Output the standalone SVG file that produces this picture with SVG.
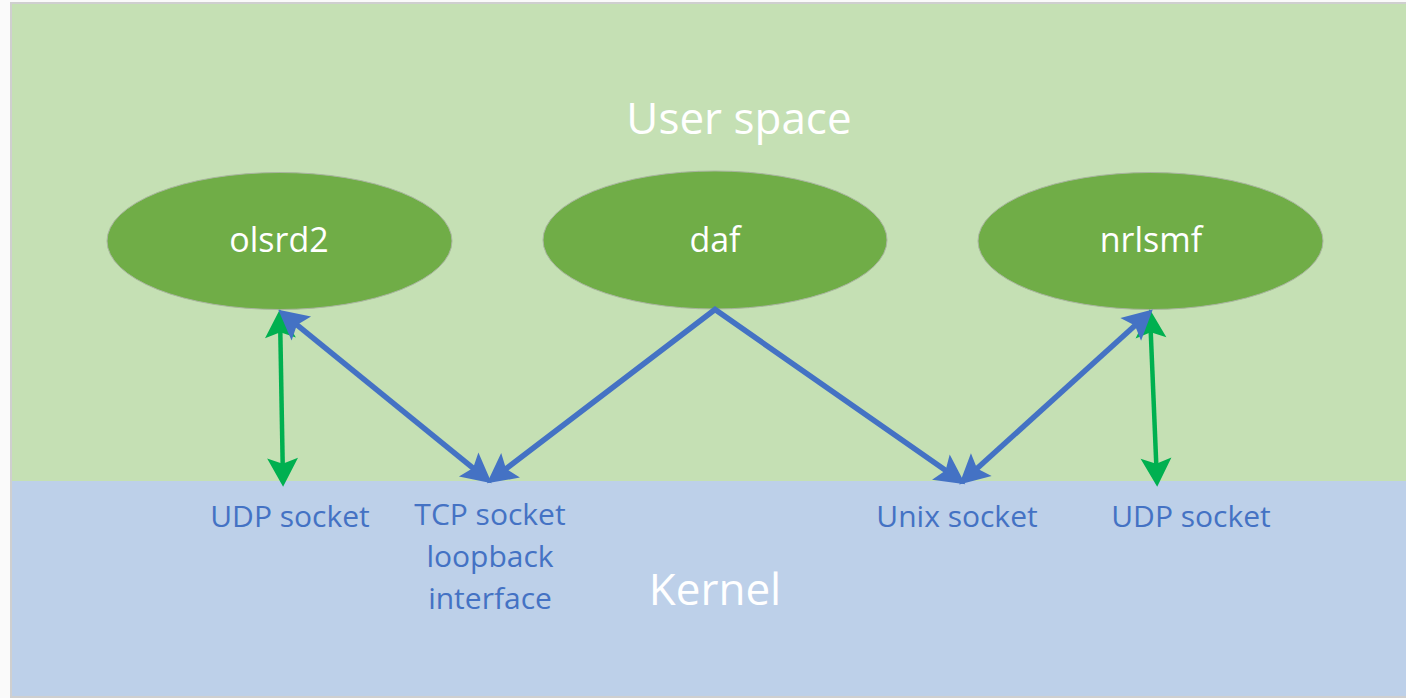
<svg xmlns="http://www.w3.org/2000/svg" width="1406" height="698" viewBox="0 0 1406 698">
  <style>
    .proc { fill: #70ad47; stroke: #a9b59f; stroke-width: 1; }
    .proc-label { font-family: "Open Sans", "Liberation Sans", sans-serif; font-size: 34px; fill: #ffffff; text-anchor: middle; }
    .zone-label { font-family: "Open Sans", "Liberation Sans", sans-serif; font-size: 44px; fill: #ffffff; text-anchor: middle; }
    .sock-label { font-family: "Open Sans", "Liberation Sans", sans-serif; font-size: 30px; fill: #4472c4; text-anchor: middle; }
    .link-blue { fill: none; stroke: #4472c4; stroke-width: 5.5; stroke-linejoin: miter; }
    .link-green { fill: none; stroke: #00b050; stroke-width: 4.5; }
  </style>
  <defs>
    <marker id="head-blue" markerUnits="userSpaceOnUse" markerWidth="32" markerHeight="32" viewBox="0 -14 28 28" refX="6" refY="0" orient="auto-start-reverse" overflow="visible">
      <path d="M26,0 L0,-13.5 L5,0 L0,13.5 Z" fill="#4472c4"/>
    </marker>
    <marker id="head-green" markerUnits="userSpaceOnUse" markerWidth="32" markerHeight="32" viewBox="0 -14 28 28" refX="6" refY="0" orient="auto-start-reverse" overflow="visible">
      <path d="M25,0 L0,-13.5 L5,0 L0,13.5 Z" fill="#00b050"/>
    </marker>
  </defs>

  <!-- page and frame -->
  <rect x="0" y="0" width="1406" height="698" fill="#fafafa"/>
  <rect x="10" y="2" width="1396" height="696" fill="#cfcfcf"/>

  <!-- layers -->
  <g id="user-space">
    <rect x="12" y="4" width="1394" height="477" fill="#c5e0b4"/>
    <text class="zone-label" x="739" y="134">User space</text>
  </g>
  <g id="kernel">
    <rect x="12" y="481" width="1394" height="215" fill="#bdd0e9"/>
    <text class="zone-label" x="715" y="605">Kernel</text>
  </g>

  <!-- processes -->
  <g id="olsrd2">
    <ellipse class="proc" cx="279.5" cy="241" rx="172.5" ry="68.5"/>
    <text class="proc-label" x="279" y="252">olsrd2</text>
  </g>
  <g id="daf">
    <ellipse class="proc" cx="715" cy="240" rx="172" ry="69"/>
    <text class="proc-label" x="715" y="252">daf</text>
  </g>
  <g id="nrlsmf">
    <ellipse class="proc" cx="1150.5" cy="241" rx="172.5" ry="68.5"/>
    <text class="proc-label" x="1151" y="252">nrlsmf</text>
  </g>

  <!-- kernel endpoints -->
  <g id="udp-socket-left">
    <text class="sock-label" x="290" y="527">UDP socket</text>
  </g>
  <g id="tcp-socket">
    <text class="sock-label" x="490" y="525">TCP socket</text>
    <text class="sock-label" x="490" y="567">loopback</text>
    <text class="sock-label" x="490" y="609">interface</text>
  </g>
  <g id="unix-socket">
    <text class="sock-label" x="957" y="527">Unix socket</text>
  </g>
  <g id="udp-socket-right">
    <text class="sock-label" x="1191" y="527">UDP socket</text>
  </g>

  <!-- connectors -->
  <g id="connectors">
    <line class="link-green" x1="280.3" y1="331" x2="282.7" y2="465" marker-start="url(#head-green)" marker-end="url(#head-green)"/>
    <line class="link-green" x1="1150.7" y1="331" x2="1156.3" y2="465" marker-start="url(#head-green)" marker-end="url(#head-green)"/>
    <line class="link-blue" x1="296" y1="324.2" x2="474" y2="468.8" marker-start="url(#head-blue)" marker-end="url(#head-blue)"/>
    <polyline class="link-blue" points="505.1,469.5 715,309.5 946.5,471.1" marker-start="url(#head-blue)" marker-end="url(#head-blue)"/>
    <line class="link-blue" x1="1135.8" y1="324.8" x2="976.2" y2="469.2" marker-start="url(#head-blue)" marker-end="url(#head-blue)"/>
  </g>
</svg>
